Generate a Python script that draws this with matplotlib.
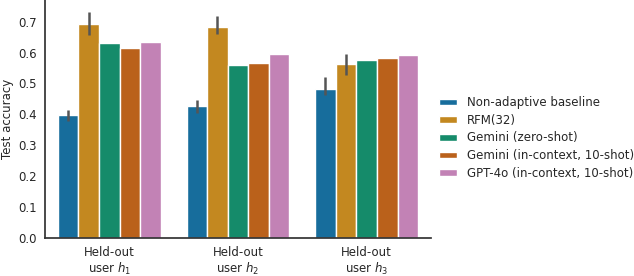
import numpy as np
import matplotlib
matplotlib.use("Agg")
import matplotlib.pyplot as plt
import seaborn as sns

groups = ["Held-out\nuser $h_1$", "Held-out\nuser $h_2$", "Held-out\nuser $h_3$"]
methods = ["Non-adaptive baseline", "RFM(32)", "Gemini (zero-shot)",
           "Gemini (in-context, 10-shot)", "GPT-4o (in-context, 10-shot)"]

baseline = [0.398, 0.427, 0.482]
baseline_err = [(0.377, 0.415), (0.404, 0.447), (0.463, 0.521)]
rfm = [0.692, 0.683, 0.563]
rfm_err = [(0.657, 0.730), (0.659, 0.718), (0.528, 0.594)]
gemini_zero = [0.631, 0.560, 0.576]
gemini_ic = [0.615, 0.566, 0.582]
gpt4o_ic = [0.634, 0.595, 0.592]

values = [baseline, rfm, gemini_zero, gemini_ic, gpt4o_ic]
errors = [baseline_err, rfm_err, None, None, None]

sns.set_style("ticks")
plt.rcParams["font.family"] = ["DejaVu Sans"]
plt.rcParams["font.size"] = 8.45

palette = [sns.desaturate(c, 0.75) for c in sns.color_palette("colorblind", 5)]

fig = plt.figure(figsize=(6.34, 2.76), dpi=100)
ax = fig.add_axes([45 / 634, 38 / 276, 386 / 634, 238 / 276])

x = np.arange(len(groups))
n = len(methods)
w = 0.8 / n
for i, (m, v) in enumerate(zip(methods, values)):
    pos = x - 0.4 + w * (i + 0.5)
    ax.bar(pos, v, width=w, color=palette[i], edgecolor="white", linewidth=1.0, label=m)
    if errors[i] is not None:
        for p, (lo, hi) in zip(pos, errors[i]):
            ax.plot([p, p], [lo, hi], color="#555555", lw=1.8, solid_capstyle="butt")

ax.set_xlim(-0.5, 2.5)
ax.set_ylim(0, 0.77)
ax.set_yticks(np.arange(0, 0.71, 0.1))
ax.set_xticks(x)
ax.set_xticklabels(groups, color="#262626", linespacing=1.1)
ax.tick_params(axis="x", length=0, pad=6)
ax.tick_params(axis="y", length=0, pad=6, colors="#262626")
ax.set_ylabel("Test accuracy", color="#262626", labelpad=3)
for s in ["top", "right"]:
    ax.spines[s].set_visible(False)
for s in ["left", "bottom"]:
    ax.spines[s].set_linewidth(1.25)
    ax.spines[s].set_color("#333333")

fig.legend(loc="center left", bbox_to_anchor=(428 / 634, 1 - 138 / 276), frameon=False,
           handlelength=1.6, handleheight=0.5, labelspacing=0.4)

fig.savefig("out.png", dpi=100)
